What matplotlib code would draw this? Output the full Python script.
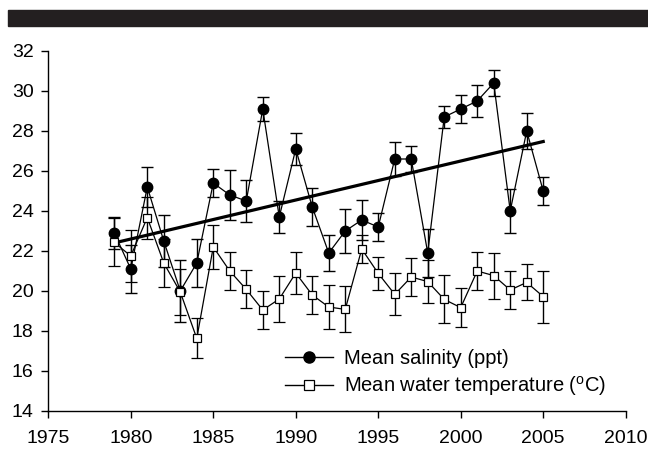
import numpy as np
import matplotlib
matplotlib.use("Agg")
import matplotlib.pyplot as plt
from matplotlib.patches import Rectangle
from matplotlib.lines import Line2D

plt.rcParams['font.family'] = ['Liberation Sans', 'DejaVu Sans']
plt.rcParams['mathtext.fontset'] = 'custom'
plt.rcParams['mathtext.rm'] = 'Liberation Sans'

years = np.arange(1979, 2006)
salinity = [22.9, 21.1, 25.2, 22.5, 20.0, 21.4, 25.4, 24.8, 24.5, 29.1,
            23.7, 27.1, 24.2, 21.9, 23.0, 23.55, 23.2, 26.6, 26.6, 21.9,
            28.7, 29.1, 29.5, 30.4, 24.0, 28.0, 25.0]
salinity_err = [0.8, 1.2, 1.0, 1.3, 1.55, 1.2, 0.7, 1.25, 1.05, 0.6,
                0.8, 0.78, 0.93, 0.9, 1.1, 1.0, 0.68, 0.87, 0.63, 1.2,
                0.55, 0.72, 0.78, 0.67, 1.08, 0.88, 0.72]
temperature = [22.43, 21.75, 23.67, 21.4, 19.95, 17.63, 22.2, 21.0, 20.08, 19.05,
               19.6, 20.9, 19.8, 19.2, 19.08, 22.1, 20.88, 19.83, 20.7, 20.47,
               19.58, 19.17, 21.0, 20.77, 20.05, 20.43, 19.72]
temperature_err = [1.2, 1.3, 1.05, 1.2, 1.15, 1.0, 1.1, 0.95, 0.95, 0.95,
                   1.15, 1.07, 0.95, 1.1, 1.15, 0.7, 0.83, 1.05, 0.95, 1.07,
                   1.2, 0.98, 0.93, 1.15, 0.97, 0.9, 1.3]

xticks = [1975, 1980, 1985, 1990, 1995, 2000, 2005, 2010]
yticks = [14, 16, 18, 20, 22, 24, 26, 28, 30, 32]
label_sal = 'Mean salinity (ppt)'
label_temp = r'Mean water temperature ($^{\mathrm{o}}$C)'

fig = plt.figure(figsize=(6.48, 4.49), dpi=100)
fig.patches.append(Rectangle((7.5 / 648, 1 - 26 / 449), 1, 16 / 449,
                             transform=fig.transFigure, color='#231f20', zorder=0))
ax = fig.add_axes([48.3 / 648, 38 / 449, (625.7 - 48.3) / 648, (411 - 51) / 449])

# regression line for salinity
coef = np.polyfit(years, salinity, 1)
ax.plot(years[[0, -1]], np.polyval(coef, years[[0, -1]]), color='black', lw=2.3, zorder=3)

ax.errorbar(years, salinity, yerr=salinity_err, fmt='-o', color='black',
            mfc='black', mec='black', ms=7.5, lw=0.9, elinewidth=1.0,
            capsize=4, capthick=1.0, zorder=4)
ax.errorbar(years, temperature, yerr=temperature_err, fmt='-s', color='black',
            mfc='white', mec='black', ms=6, mew=0.9, lw=0.9, elinewidth=1.0,
            capsize=4, capthick=1.0, zorder=5)

ax.set_xlim(1975, 2010)
ax.set_ylim(14, 32)
ax.set_xticks(xticks)
ax.set_yticks(yticks)
for s in ['top', 'right']:
    ax.spines[s].set_visible(False)
for s in ['left', 'bottom']:
    ax.spines[s].set_linewidth(1.0)
ax.tick_params(axis='both', direction='out', length=5, width=1.0, labelsize=14)
ax.tick_params(axis='y', pad=5.5)
ax.tick_params(axis='x', pad=9)

handles = [
    Line2D([], [], color='black', lw=1.0, marker='o', mfc='black', mec='black', ms=8),
    Line2D([], [], color='black', lw=1.0, marker='s', mfc='white', mec='black', ms=6.5, mew=0.9),
]
ax.legend(handles, [label_sal, label_temp], loc='upper left', bbox_to_anchor=(0.41, 0.172),
          frameon=False, fontsize=14.5, handlelength=2.4, handletextpad=0.55,
          labelspacing=0.3, borderaxespad=0, borderpad=0)

fig.savefig('out.png', dpi=100)
